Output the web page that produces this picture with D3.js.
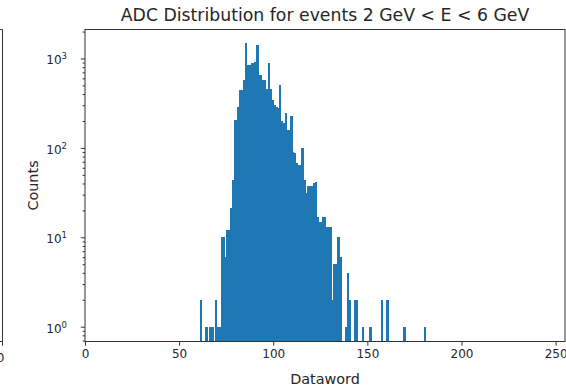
<!DOCTYPE html>
<html>
<head>
<meta charset="utf-8">
<script src="https://cdn.jsdelivr.net/npm/d3@7"></script>
<style>
  body { margin: 0; background: #fff; overflow: hidden; }
  text { font-family: "DejaVu Sans", sans-serif; fill: #262626; }
</style>
</head>
<body>
<div id="chart"></div>
<script>
// histogram bins (left edge of each 1-wide bin) and counts
var binStart = 61;
var counts = [
  2, 0, 0, 1, 0, 1, 1, 0, 2, 1,          // 61-70
  1, 10, 10, 6, 12, 12, 21, 44, 205, 205, // 71-80
  290, 445, 445, 580, 1500, 840, 840, 900, 900, 920, // 81-90
  1420, 650, 650, 580, 580, 450, 890, 450, 340, 300, // 91-100
  285, 280, 500, 200, 190, 245, 160, 160, 225, 90,   // 101-110
  87, 67, 64, 64, 99, 44, 31, 37, 37, 37,            // 111-120
  40, 42, 17, 15, 15, 17, 17, 13, 13, 13,            // 121-130
  2, 5, 5, 10, 6, 0, 0, 1, 4, 2,                      // 131-140
  0, 0, 2, 2, 0, 0, 1, 0, 0, 0,                       // 141-150
  1, 0, 0, 0, 0, 0, 2, 0, 0, 2,                       // 151-160
  0, 0, 0, 0, 0, 0, 0, 0, 1, 0,                       // 161-170
  0, 0, 0, 0, 0, 0, 0, 0, 0, 1                        // 171-180
];
var bins = counts.map(function (c, i) { return binStart + i; });

var xTicks = [0, 50, 100, 150, 200, 250];
var yExponents = [0, 1, 2, 3];

var title = "ADC Distribution for events 2 GeV < E < 6 GeV";
var xLabel = "Dataword";
var yLabel = "Counts";

var width = 566;
var height = 386;
var plotLeft = 85, plotRight = 565, plotTop = 29.5, plotBottom = 341.5;

var svg = d3.select('#chart')
  .append("svg")
  .attr("width", width)
  .attr("height", height)

var x = d3.scaleLinear().domain([0, 255]).range([plotLeft, plotRight])
var y = d3.scaleLog().domain([0.683, 2110]).range([plotBottom, plotTop])

// bars (slightly widened so neighbours merge like the original)
var data = bins.map(function (b, i) { return [b, counts[i]]; })
  .filter(function (d) { return d[1] > 0; })

svg.append("g")
  .attr("shape-rendering", "crispEdges")
  .selectAll("rect")
  .data(data)
  .enter()
  .append("rect")
  .attr("x", function (d) { return x(d[0]) })
  .attr("width", function (d) { return x(d[0] + 1) - x(d[0]) + 0.5 })
  .attr("y", function (d) { return y(d[1]) })
  .attr("height", function (d) { return plotBottom - y(d[1]) })
  .attr("fill", "#1f77b4")

// x axis
var xAxis = svg.append("g")
  .attr("transform", "translate(0," + plotBottom + ")")
  .call(d3.axisBottom(x).tickValues(xTicks).tickSize(4.2).tickPadding(3.5).tickSizeOuter(0))
xAxis.select(".domain").remove()
xAxis.selectAll("line").attr("stroke", "#333")
xAxis.selectAll("text").attr("font-size", 12).style("fill", "#262626")

// y axis: major and minor ticks
var minor = []
for (var e = -1; e <= 3; e++) {
  for (var m = 2; m <= 9; m++) {
    var v = m * Math.pow(10, e)
    if (v > y.domain()[0] && v < y.domain()[1]) minor.push(v)
  }
}
var yMinor = svg.append("g")
  .attr("transform", "translate(" + plotLeft + ",0)")
  .call(d3.axisLeft(y).tickValues(minor).tickSize(2.4).tickFormat(""))
yMinor.select(".domain").remove()
yMinor.selectAll("line").attr("stroke", "#333")

var yMajor = svg.append("g")
  .attr("transform", "translate(" + plotLeft + ",0)")
  .call(d3.axisLeft(y).tickValues(yExponents.map(function (p) { return Math.pow(10, p) })).tickSize(4.2).tickFormat(""))
yMajor.select(".domain").remove()
yMajor.selectAll("line").attr("stroke", "#333")

var ylab = svg.append("g")
  .selectAll("text")
  .data(yExponents)
  .enter()
  .append("text")
  .attr("x", plotLeft - 18)
  .attr("y", function (d) { return y(Math.pow(10, d)) + 6 })
  .attr("text-anchor", "end")
  .attr("font-size", 12)
ylab.append("tspan").text("10")
ylab.append("tspan")
  .attr("dy", -5)
  .attr("font-size", 8.5)
  .text(function (d) { return d })

// frame
svg.append("rect")
  .attr("x", plotLeft)
  .attr("y", plotTop)
  .attr("width", plotRight - plotLeft)
  .attr("height", plotBottom - plotTop)
  .attr("fill", "none")
  .attr("stroke", "#333")
  .attr("stroke-width", 1)

// edge of the neighbouring panel on the left
svg.append("path")
  .attr("d", "M0," + plotTop + "H2.5V" + plotBottom + "H0")
  .attr("fill", "none")
  .attr("stroke", "#333")
svg.append("line")
  .attr("x1", 2.5).attr("x2", 2.5)
  .attr("y1", plotBottom).attr("y2", plotBottom + 4.2)
  .attr("stroke", "#333")
svg.append("text")
  .attr("x", -7)
  .attr("y", plotBottom + 20)
  .attr("text-anchor", "middle")
  .attr("font-size", 12)
  .text("250")

// labels
svg.append("text")
  .attr("x", (plotLeft + plotRight) / 2)
  .attr("y", 21)
  .attr("text-anchor", "middle")
  .attr("font-size", 17.3)
  .text(title)

svg.append("text")
  .attr("x", (plotLeft + plotRight) / 2)
  .attr("y", 384)
  .attr("text-anchor", "middle")
  .attr("font-size", 14.4)
  .text(xLabel)

svg.append("text")
  .attr("transform", "translate(38," + (plotTop + plotBottom) / 2 + ") rotate(-90)")
  .attr("text-anchor", "middle")
  .attr("font-size", 14.4)
  .text(yLabel)
</script>
</body>
</html>
